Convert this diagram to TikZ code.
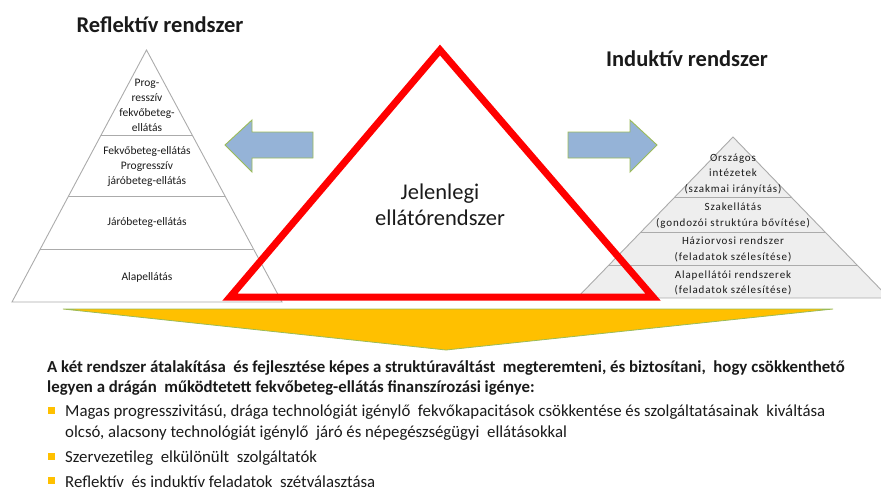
\documentclass[tikz,border=0pt]{standalone}
\usepackage{fontspec}
\setmainfont{Carlito}
\newfontfamily\widefont[LetterSpace=8]{Carlito}
\usetikzlibrary{positioning}

\definecolor{arrowblue}{HTML}{95B3D7}
\definecolor{arrowgreen}{HTML}{9BBB59}
\definecolor{gold}{HTML}{FFC000}
\definecolor{pyrfill}{HTML}{EEEEEE}
\definecolor{pyrline}{HTML}{ABABAB}
\definecolor{txtdark}{HTML}{1A1A1A}

\tikzset{
	title/.style={font=\fontsize{22.5}{26}\selectfont\bfseries, text=txtdark},
	lvl/.style={font=\fontsize{11.5}{15}\selectfont, align=center, inner sep=0pt, text=txtdark},
	rlvl/.style={font=\widefont\fontsize{11}{15.5}\selectfont, align=center, inner sep=0pt, text=txtdark},
	pyr/.style={draw=pyrline, line width=0.9pt},
	fatarrow/.style={fill=arrowblue, draw=arrowgreen, line width=0.9pt},
	body/.style={font=\fontsize{16.8}{20}\selectfont, anchor=west, inner sep=0pt, text=txtdark},
	boldbody/.style={body, font=\fontsize{16.8}{20}\selectfont\bfseries},
	bullet/.style={fill=gold, minimum size=7pt, inner sep=0pt},
}

\begin{document}
\begin{tikzpicture}[x=1pt, y=-1pt]
	\useasboundingbox (0, 0) rectangle (881, 491);

	% reflective pyramid
	\coordinate (ltop) at (146.5, 50);
	\coordinate (lbl) at (12, 302);
	\coordinate (lbr) at (282, 302);
	\draw[pyr] (ltop) -- (lbl) -- (lbr) -- cycle;
	\draw[pyr] (101, 135) -- (192, 135);
	\draw[pyr] (68, 196) -- (225, 196);
	\draw[pyr] (40, 249) -- (253, 249);

	\node[lvl] (lprog) at (147, 105) {Prog-\\resszív\\fekvőbeteg-\\ellátás};
	\node[lvl] (lfekvo) at (147, 166) {Fekvőbeteg-ellátás\\Progresszív\\járóbeteg-ellátás};
	\node[lvl] (ljaro) at (147, 222) {Járóbeteg-ellátás};
	\node[lvl] (lalap) at (147, 277) {Alapellátás};

	% inductive pyramid
	\coordinate (rtop) at (733, 137);
	\coordinate (rbl) at (577, 298);
	\coordinate (rbr) at (889, 298);
	\draw[pyr, fill=pyrfill] (rtop) -- (rbl) -- (rbr) -- cycle;
	\draw[pyr] (675, 197) -- (791, 197);
	\draw[pyr] (641, 232) -- (825, 232);
	\draw[pyr] (609, 265) -- (857, 265);

	\node[rlvl] (rorsz) at (733, 174) {Országos\\intézetek\\(szakmai irányítás)};
	\node[rlvl] (rszak) at (733, 215.5) {Szakellátás\\(gondozói struktúra bővítése)};
	\node[rlvl] (rhazi) at (733, 249.5) {Háziorvosi rendszer\\(feladatok szélesítése)};
	\node[rlvl] (ralap) at (733, 283) {Alapellátói rendszerek\\(feladatok szélesítése)};

	% titles
	\node[title] (reftitle) at (160, 25) {Reflektív rendszer};
	\node[title] (indtitle) at (687, 59) {Induktív rendszer};

	% blue arrows
	\draw[fatarrow] (225, 145) -- (252, 120) -- (252, 132) -- (313, 132)
		-- (313, 158) -- (252, 158) -- (252, 172) -- cycle;
	\draw[fatarrow] (657, 145) -- (630, 120) -- (630, 132) -- (568, 132)
		-- (568, 158) -- (630, 158) -- (630, 172) -- cycle;

	% current system
	\draw[red, line width=7pt] (440, 50) -- (230, 297) -- (653, 297) -- cycle;
	\node[font=\fontsize{22.5}{26}\selectfont, align=center, text=txtdark] (current) at (440, 205) {Jelenlegi\\ellátórendszer};

	% gold arrow
	\draw[fill=gold, draw=arrowgreen, line width=0.8pt] (63, 309) -- (833, 309) -- (446, 350) -- cycle;

	% text below
	\node[boldbody] (line1) at (47, 368)
		{A két rendszer átalakítása \ és fejlesztése képes a struktúraváltást \ megteremteni, és biztosítani, \ hogy csökkenthető};
	\node[boldbody] (line2) at (47, 388)
		{legyen a drágán \ működtetett fekvőbeteg-ellátás finanszírozási igénye:};

	\node[bullet] (b1) at (51.5, 410) {};
	\node[body] (item1) at (65, 412)
		{Magas progresszivitású, drága technológiát igénylő \ fekvőkapacitások csökkentése és szolgáltatásainak \ kiváltása};
	\node[body] (item1b) at (65, 433)
		{olcsó, alacsony technológiát igénylő \ járó és népegészségügyi \ ellátásokkal};
	\node[bullet] (b2) at (51.5, 456) {};
	\node[body] (item2) at (65, 458) {Szervezetileg \ elkülönült \ szolgáltatók};
	\node[bullet] (b3) at (51.5, 480) {};
	\node[body] (item3) at (65, 482) {Reflektív \ és induktív feladatok \ szétválasztása};
\end{tikzpicture}
\end{document}
